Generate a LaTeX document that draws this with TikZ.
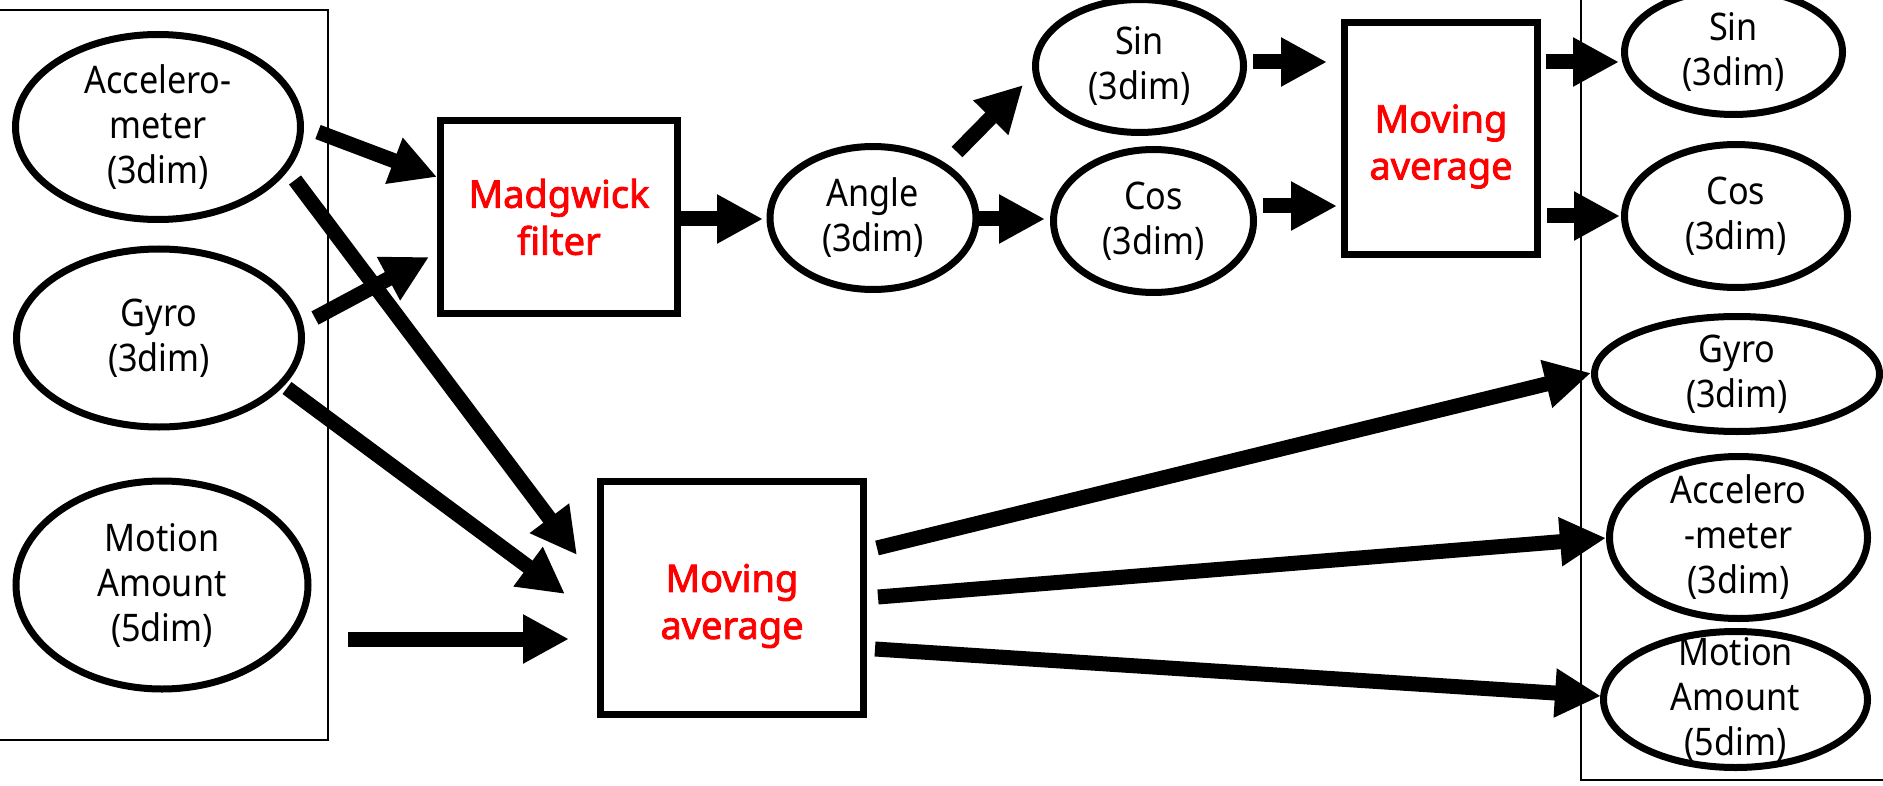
\documentclass[tikz,border=0pt]{standalone}
\usepackage{fontspec}
\setmainfont{Noto Sans}[FakeStretch=0.9]
\newfontfamily\redfont{Noto Sans}[FakeBold=2.2]
\usetikzlibrary{arrows.meta,shapes.geometric,calc}
\begin{document}
\begin{tikzpicture}[x=0.5pt,y=-0.5pt,
  ell/.style={ellipse, draw, line width=3.5pt, inner sep=0pt},
  txt/.style={align=center, font=\fontsize{19}{22.5}\selectfont, inner sep=0pt},
  boxn/.style={rectangle, draw, line width=3.5pt, inner sep=0pt},
  redtxt/.style={align=center, inner sep=0pt, text=red, font=\redfont\fontsize{19}{23.5}\selectfont},
  arr/.style={line width=7.5pt, -{Triangle[length=23pt,width=23pt]}},
  frame/.style={line width=1pt}]
\useasboundingbox (0,0) rectangle (1883,786);
\fill[white] (0,0) rectangle (1883,786);
% containers
\draw[frame] (-10,10.5) -- (328,10.5) -- (328,740) -- (-10,740);
\draw[frame] (1893,780) -- (1581,780) -- (1581,-10);
% left inputs
\node[ell, minimum width=142.5pt, minimum height=92.5pt] (accL) at (158,127) {};
\node[txt] (accLt) at (accL.center) {Accelero-\\meter\\(3dim)};
\node[ell, minimum width=142.5pt, minimum height=89pt] (gyrL) at (159,338) {};
\node[txt] (gyrLt) at (gyrL.center) {Gyro\\(3dim)};
\node[ell, minimum width=146pt, minimum height=104pt] (motL) at (162,585) {};
\node[txt] (motLt) at (motL.center) {Motion\\Amount\\(5dim)};
% processing
\node[boxn, minimum width=118.5pt, minimum height=96.5pt] (madg) at (559,217) {};
\node[redtxt] (madgt) at (madg.center) {Madgwick\\filter};
\node[ell, minimum width=103pt, minimum height=71.5pt] (ang) at (873,218) {};
\node[txt] (angt) at (ang.center) {Angle\\(3dim)};
\node[ell, minimum width=104pt, minimum height=66.5pt] (sin) at (1139.5,66) {};
\node[txt] (sint) at (sin.center) {Sin\\(3dim)};
\node[ell, minimum width=100pt, minimum height=71.5pt] (cos) at (1153.5,221) {};
\node[txt] (cost) at (cos.center) {Cos\\(3dim)};
\node[boxn, minimum width=96.5pt, minimum height=116pt] (ma2) at (1441,138.5) {};
\node[redtxt] (ma2t) at ($(ma2.center)+(0,8)$) {Moving\\average};
\node[boxn, minimum width=131.5pt, minimum height=116.5pt] (ma1) at (732,598) {};
\node[redtxt] (ma1t) at ($(ma1.center)+(0,8)$) {Moving\\average};
% outputs
\node[ell, minimum width=109pt, minimum height=62.5pt] (sin2) at (1733.5,52) {};
\node[txt] (sin2t) at (sin2.center) {Sin\\(3dim)};
\node[ell, minimum width=111.5pt, minimum height=71.5pt] (cos2) at (1736,216) {};
\node[txt] (cos2t) at (cos2.center) {Cos\\(3dim)};
\node[ell, minimum width=142.5pt, minimum height=57.5pt] (gyr2) at (1737,374) {};
\node[txt] (gyr2t) at (gyr2.center) {Gyro\\(3dim)};
\node[ell, minimum width=129pt, minimum height=81pt] (acc2) at (1738.5,537.5) {};
\node[txt] (acc2t) at (acc2.center) {Accelero\\-meter\\(3dim)};
\node[ell, minimum width=132pt, minimum height=68pt] (mot2) at (1735.5,699.5) {};
\node[txt] (mot2t) at (mot2.center) {Motion\\Amount\\(5dim)};
% arrows
\draw[arr] ($(accL.center)+(160,5)$) -- ($(madg.center)+(-122,-40)$);
\draw[arr] ($(gyrL.center)+(156,-20)$) -- ($(madg.center)+(-130,40)$);
\draw[arr] ($(accL.center)+(137,53)$) -- ($(ma1.center)+(-155,-43)$);
\draw[arr] ($(gyrL.center)+(128,50)$) -- ($(ma1.center)+(-167,-4)$);
\draw[arr] ($(motL.center)+(186,54)$) -- ($(ma1.center)+(-163,41)$);
\draw[arr] ($(madg.center)+(122,2)$) -- ($(ang.center)+(-110,1)$);
\draw[arr] ($(ang.center)+(84,-66)$) -- ($(sin.center)+(-116.5,19)$);
\draw[arr] ($(ang.center)+(104,1)$) -- ($(cos.center)+(-108.5,-2)$);
\draw[arr] ($(sin.center)+(113.5,-4)$) -- ($(ma2.center)+(-114,-76.5)$);
\draw[arr] ($(cos.center)+(109.5,-15)$) -- ($(ma2.center)+(-104,67.5)$);
\draw[arr] ($(ma2.center)+(105,-76.5)$) -- ($(sin2.center)+(-114.5,10)$);
\draw[arr] ($(ma2.center)+(106,77.5)$) -- ($(cos2.center)+(-116,0)$);
\draw[arr] ($(ma1.center)+(145,-50)$) -- ($(gyr2.center)+(-146,-1)$);
\draw[arr] ($(ma1.center)+(146,-1)$) -- ($(acc2.center)+(-132.5,0.5)$);
\draw[arr] ($(ma1.center)+(143,51)$) -- ($(mot2.center)+(-134.5,-3.5)$);
\end{tikzpicture}
\end{document}
